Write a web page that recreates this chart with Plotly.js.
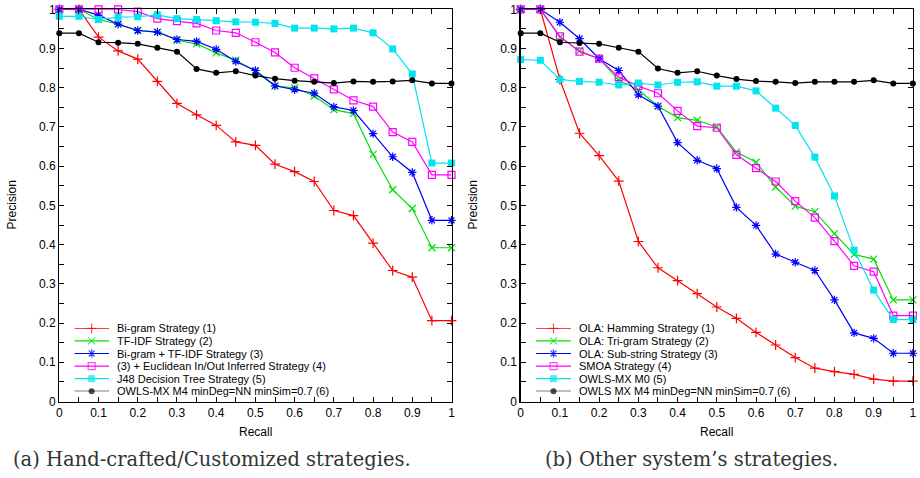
<!DOCTYPE html>
<html><head><meta charset="utf-8">
<script src="https://cdn.plot.ly/plotly-3.0.1.min.js"></script>
<style>html,body{margin:0;padding:0;background:#fff}#chart{width:920px;height:478px}</style>
</head><body><div id="chart"></div>
<script>
// ---------- data ----------
const recall = [0, 0.05, 0.1, 0.15, 0.2, 0.25, 0.3, 0.35, 0.4, 0.45, 0.5, 0.55, 0.6, 0.65, 0.7, 0.75, 0.8, 0.85, 0.9, 0.95, 1];

// (a) Hand-crafted / customized strategies
const namesA = ["Bi-gram Strategy (1)", "TF-IDF Strategy (2)", "Bi-gram + TF-IDF Strategy (3)",
  "(3) + Euclidean In/Out Inferred Strategy (4)", "J48 Decision Tree Strategy (5)",
  "OWLS-MX M4 minDeg=NN minSim=0.7 (6)"];
const bigram      = [1.0, 1.0, 0.929, 0.894, 0.873, 0.816, 0.760, 0.731, 0.704, 0.662, 0.653, 0.605, 0.586, 0.561, 0.487, 0.474, 0.404, 0.334, 0.317, 0.206, 0.206];
const tfidf       = [1.0, 1.0, 0.974, 0.962, 0.946, 0.942, 0.921, 0.912, 0.889, 0.870, 0.842, 0.804, 0.800, 0.779, 0.744, 0.734, 0.630, 0.540, 0.492, 0.392, 0.392];
const bigramTfidf = [1.0, 1.0, 0.985, 0.962, 0.946, 0.942, 0.923, 0.918, 0.898, 0.867, 0.844, 0.805, 0.795, 0.786, 0.751, 0.742, 0.683, 0.624, 0.584, 0.462, 0.462];
const euclidean   = [1.0, 1.0, 1.0, 1.0, 0.994, 0.976, 0.970, 0.964, 0.946, 0.940, 0.916, 0.890, 0.851, 0.824, 0.796, 0.768, 0.752, 0.687, 0.662, 0.578, 0.578];
const j48         = [0.982, 0.982, 0.974, 0.980, 0.981, 0.986, 0.976, 0.974, 0.971, 0.968, 0.967, 0.964, 0.952, 0.952, 0.950, 0.952, 0.940, 0.899, 0.835, 0.608, 0.608];
const owlsM4a     = [0.939, 0.939, 0.916, 0.915, 0.912, 0.902, 0.892, 0.848, 0.838, 0.842, 0.831, 0.823, 0.818, 0.815, 0.812, 0.816, 0.815, 0.816, 0.819, 0.811, 0.811];

// (b) Other system's strategies
const namesB = ["OLA: Hamming Strategy (1)", "OLA: Tri-gram Strategy (2)", "OLA: Sub-string Strategy (3)",
  "SMOA Strategy (4)", "OWLS-MX M0 (5)", "OWLS MX M4 minDeg=NN minSim=0.7 (6)"];
const hamming   = [1.0, 1.0, 0.821, 0.684, 0.627, 0.562, 0.408, 0.341, 0.308, 0.275, 0.241, 0.212, 0.176, 0.144, 0.112, 0.085, 0.076, 0.069, 0.057, 0.052, 0.052];
const trigram   = [1.0, 1.0, 0.929, 0.894, 0.874, 0.819, 0.795, 0.753, 0.724, 0.717, 0.700, 0.636, 0.610, 0.547, 0.498, 0.484, 0.428, 0.375, 0.363, 0.259, 0.259];
const substring = [1.0, 1.0, 0.967, 0.925, 0.874, 0.844, 0.782, 0.753, 0.660, 0.615, 0.594, 0.495, 0.449, 0.376, 0.355, 0.334, 0.259, 0.175, 0.161, 0.123, 0.123];
const smoa      = [1.0, 1.0, 0.931, 0.892, 0.874, 0.827, 0.804, 0.786, 0.741, 0.702, 0.698, 0.629, 0.595, 0.561, 0.511, 0.469, 0.409, 0.346, 0.331, 0.219, 0.219];
const owlsM0    = [0.872, 0.870, 0.821, 0.816, 0.814, 0.807, 0.812, 0.807, 0.814, 0.815, 0.804, 0.804, 0.792, 0.748, 0.704, 0.623, 0.524, 0.386, 0.284, 0.209, 0.209];
const owlsM4b   = [0.939, 0.939, 0.916, 0.914, 0.912, 0.902, 0.892, 0.849, 0.838, 0.842, 0.831, 0.822, 0.817, 0.815, 0.812, 0.815, 0.815, 0.815, 0.819, 0.811, 0.811];

const tickVals = [0, 0.1, 0.2, 0.3, 0.4, 0.5, 0.6, 0.7, 0.8, 0.9, 1];
const tickText = ["0", "0.1", "0.2", "0.3", "0.4", "0.5", "0.6", "0.7", "0.8", "0.9", "1"];

const seriesA = [bigram, tfidf, bigramTfidf, euclidean, j48, owlsM4a];
const seriesB = [hamming, trigram, substring, smoa, owlsM0, owlsM4b];

// ---------- styles ----------
const colors  = ["#ff0000", "#00e000", "#0000ff", "#ff00ff", "#00e5ee", "#000000"];
const symbols = ["cross-thin", "x-thin", "asterisk-open", "square-open", "square", "circle"];
const msizes  = [7, 7, 7, 7, 7, 6];
const mlw     = [1.2, 1.2, 1.2, 1.2, 0, 0];

const W = 920, H = 478;
const px = v => v / W;
const py = v => 1 - v / H;
const FONT = "Liberation Sans, Arial, sans-serif";
const SERIF = "DejaVu Serif, Liberation Serif, serif";

function markerFor(i, size) {
  return { symbol: symbols[i], size: size, color: colors[i], line: { color: colors[i], width: mlw[i] } };
}

const traces = [];
function addPanel(series, xa, ya) {
  series.forEach((ys, i) => {
    traces.push({
      type: "scatter", mode: "lines+markers", x: recall, y: ys, xaxis: xa, yaxis: ya,
      line: { color: colors[i], width: 1.2 }, marker: markerFor(i, msizes[i]),
      cliponaxis: false, showlegend: false, hoverinfo: "skip"
    });
  });
}
addPanel(seriesA, "x", "y");
addPanel(seriesB, "x2", "y2");

// legend keys (hidden helper axes) + labels
const LEG_TOP = 328.3, LEG_STEP = 12.6;
const annotations = [];
function addLegend(names, xa, ya, textPx) {
  names.forEach((n, i) => {
    traces.push({
      type: "scatter", mode: "lines+markers", x: [0, 0.5, 1], y: [i, i, i], xaxis: xa, yaxis: ya,
      line: { color: colors[i], width: 1.2 },
      marker: Object.assign(markerFor(i, msizes[i]), { size: [0, msizes[i], 0] }),
      cliponaxis: false, showlegend: false, hoverinfo: "skip"
    });
    annotations.push({ xref: "paper", yref: "paper", x: px(textPx), y: py(LEG_TOP + i * LEG_STEP), text: n,
      showarrow: false, xanchor: "left", yanchor: "middle", borderpad: 0,
      font: { family: FONT, size: 11, color: "#000" } });
  });
}
addLegend(namesA, "x3", "y3", 116);
addLegend(namesB, "x4", "y4", 578);

// ---------- layout ----------
function mainAxis(domain, anchor) {
  return {
    domain: domain, anchor: anchor, range: [0, 1], fixedrange: true,
    tickvals: tickVals, ticktext: tickText,
    ticks: "inside", ticklen: 5, tickwidth: 1, tickcolor: "#000",
    minor: { dtick: 0.05, tick0: 0, ticks: "inside", ticklen: 5, tickwidth: 1, tickcolor: "#000", showgrid: false },
    showline: true, linecolor: "#000", linewidth: 1.3, mirror: "ticks",
    showgrid: false, zeroline: false,
    tickfont: { family: FONT, size: 12, color: "#000" }
  };
}
function hiddenAxis(domain, anchor, range) {
  return { domain: domain, anchor: anchor, range: range, visible: false, fixedrange: true,
    showgrid: false, zeroline: false };
}

const yDom = [py(401.5), py(9.3)];
const legYDom = [py(LEG_TOP + 5 * LEG_STEP), py(LEG_TOP)];

const layout = {
  width: W, height: H,
  margin: { l: 0, r: 0, t: 0, b: 0 },
  paper_bgcolor: "#fff", plot_bgcolor: "rgba(0,0,0,0)",
  showlegend: false,
  xaxis:  mainAxis([px(59.3), px(451.5)], "y"),
  yaxis:  mainAxis(yDom, "x"),
  xaxis2: mainAxis([px(520.7), px(912.9)], "y2"),
  yaxis2: mainAxis(yDom, "x2"),
  xaxis3: hiddenAxis([px(74.3), px(109)], "y3", [0, 1]),
  yaxis3: hiddenAxis(legYDom, "x3", [5, 0]),
  xaxis4: hiddenAxis([px(536), px(571)], "y4", [0, 1]),
  yaxis4: hiddenAxis(legYDom, "x4", [5, 0]),
  annotations: annotations.concat([
    { xref: "paper", yref: "paper", x: px(255.4), y: py(432), text: "Recall", showarrow: false,
      xanchor: "center", yanchor: "middle", font: { family: FONT, size: 12, color: "#000" } },
    { xref: "paper", yref: "paper", x: px(716.8), y: py(432), text: "Recall", showarrow: false,
      xanchor: "center", yanchor: "middle", font: { family: FONT, size: 12, color: "#000" } },
    { xref: "paper", yref: "paper", x: px(12), y: py(205.4), text: "Precision", showarrow: false, textangle: -90,
      xanchor: "center", yanchor: "middle", font: { family: FONT, size: 12, color: "#000" } },
    { xref: "paper", yref: "paper", x: px(473), y: py(205.4), text: "Precision", showarrow: false, textangle: -90,
      xanchor: "center", yanchor: "middle", font: { family: FONT, size: 12, color: "#000" } },
    { xref: "paper", yref: "paper", x: px(212), y: py(459), text: "(a) Hand-crafted/Customized strategies.", showarrow: false,
      xanchor: "center", yanchor: "middle", font: { family: SERIF, size: 19.5, color: "#333" } },
    { xref: "paper", yref: "paper", x: px(691), y: py(459), text: "(b) Other system’s strategies.", showarrow: false,
      xanchor: "center", yanchor: "middle", font: { family: SERIF, size: 19.5, color: "#333" } }
  ])
};

Plotly.newPlot("chart", traces, layout, { staticPlot: true, displayModeBar: false });
</script>
</body></html>
